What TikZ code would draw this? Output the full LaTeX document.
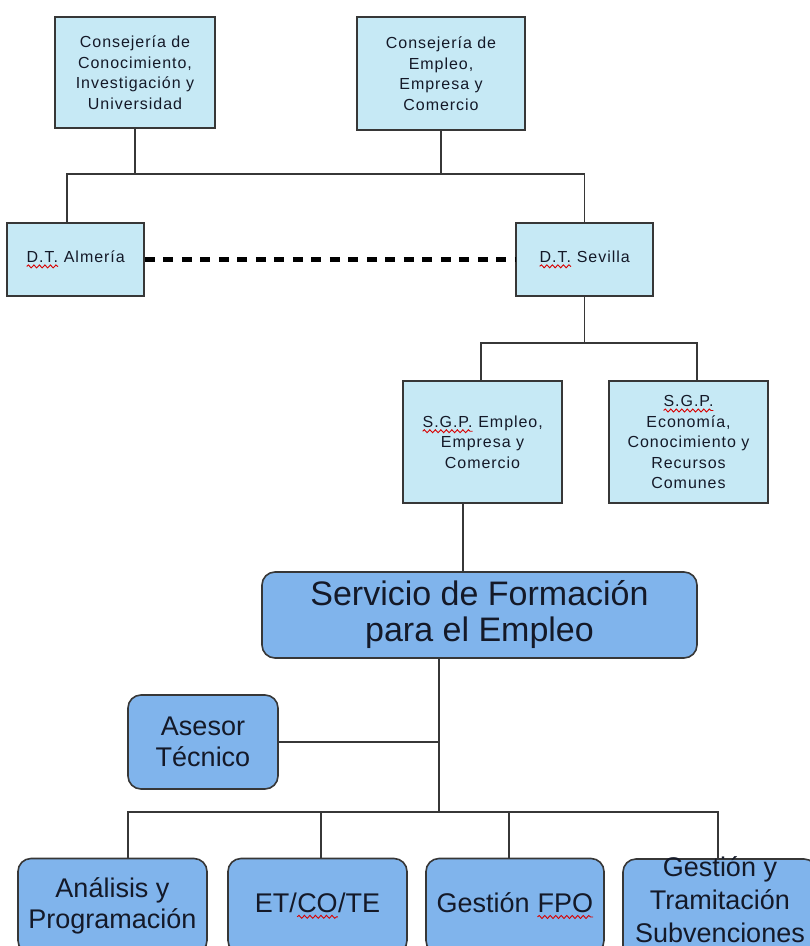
\documentclass[tikz,border=0pt]{standalone}
\usepackage{fontspec}
\setmainfont{Liberation Sans}
\usetikzlibrary{decorations.pathmorphing}
\definecolor{lightfill}{RGB}{198,233,245}
\definecolor{darkfill}{RGB}{128,180,236}
\definecolor{edge}{RGB}{55,55,55}
\definecolor{txt}{RGB}{20,25,40}
\tikzset{
  wavebase/.style={inner sep=0pt, outer sep=0pt, minimum width=0pt, minimum height=0pt, draw=none, fill=none, sharp corners, line width=0pt},
  waveline/.style={draw=red!85!black, line width=0.9pt, sharp corners, decorate, decoration={snake, amplitude=1.5pt, segment length=5.5pt}}
}
\newcommand\redwave[1]{\tikz[baseline=(w.base), x=1pt, y=1pt, sharp corners]{\node[wavebase] (w) {#1}; \draw[waveline] ([yshift=-4pt]w.base west) -- ([yshift=-4pt]w.base east);}}
\newcommand\smallfont{\addfontfeature{LetterSpace=6}\fontsize{16}{20.5}\selectfont}
\newcommand\bigfont{\fontsize{27}{31}\selectfont}
\tikzset{
  lbox/.style={draw=edge, line width=1.8pt, fill=lightfill, align=center, text=txt, inner sep=0pt, font=\smallfont},
  dbox/.style={draw=edge, line width=1.6pt, fill=darkfill, align=center, text=txt, inner sep=0pt, rounded corners=13pt, font=\bigfont},
  conn/.style={draw=edge, line width=1.5pt},
  dotted link/.style={draw=black, line width=5pt, dash pattern=on 10pt off 8.5pt}
}
\begin{document}
\begin{tikzpicture}[x=1pt,y=-1pt]
\useasboundingbox (0,0) rectangle (810,946);
\clip (0,0) rectangle (810,946);
\fill[white] (0,0) rectangle (810,946);
% top boxes
\node[lbox, minimum width=160pt, minimum height=111pt] (c1) at (135,72.5) {Consejería de\\Conocimiento,\\Investigación y\\Universidad};
\node[lbox, minimum width=168pt, minimum height=113pt] (c2) at (441,73.5) {Consejería de\\Empleo,\\Empresa y\\Comercio};
\node[lbox, minimum width=137pt, minimum height=73pt] (dta) at (75.5,259.5) {\redwave{D.T.} Almería};
\node[lbox, minimum width=137pt, minimum height=73pt] (dts) at (584.5,259.5) {\redwave{D.T.} Sevilla};
\node[lbox, minimum width=159pt, minimum height=122pt] (sgp1) at (482.5,442) {\redwave{S.G.P.} Empleo,\\Empresa y\\Comercio};
\node[lbox, minimum width=159pt, minimum height=122pt] (sgp2) at (688.5,442) {\redwave{S.G.P.}\\Economía,\\Conocimiento y\\Recursos\\Comunes};
% rounded boxes
\node[dbox, minimum width=435pt, minimum height=86pt, font=\fontsize{34}{36}\selectfont] (serv) at (479.5,615) {Servicio de Formación\\para el Empleo};
\node[dbox, minimum width=150pt, minimum height=94pt] (ases) at (203,742) {Asesor\\Técnico};
\node[dbox, minimum width=189pt, minimum height=95pt] (b1) at (112.5,906) {Análisis y\\Programación};
\node[dbox, minimum width=179pt, minimum height=95pt] (b2) at (317.5,906) {ET/\redwave{CO}/TE};
\node[dbox, minimum width=178pt, minimum height=95pt] (b3) at (515,906) {Gestión \redwave{FPO}};
\node[dbox, minimum width=194pt, minimum height=100pt, font=\fontsize{27}{33}\selectfont] (b4) at (720,909) {\smash{\begin{tabular}{@{}c@{}}Gestión y\\Tramitación\\Subvenciones\end{tabular}}};
% junction coordinates
\coordinate (hL) at (67,174);
\coordinate (hR) at (584.5,174);
\coordinate (sL) at (481,343);
\coordinate (sR) at (697,343);
\coordinate (sv) at (463,503);
\coordinate (t) at (439,812);
\coordinate (t1) at (128,812);
\coordinate (t2) at (321,812);
\coordinate (t3) at (509,812);
\coordinate (t4) at (718,812);
% connectors
\draw[conn] (c1.south) -- (c1.south |- hL);
\draw[conn] (c2.south) -- (c2.south |- hL);
\draw[conn] (hL |- dta.north) -- (hL) -- (hR) -- (dts.north);
\draw[dotted link] (dta.east) -- (dts.west);
\draw[conn] (dts.south) -- (dts.south |- sL);
\draw[conn] (sL |- sgp1.north) -- (sL) -- (sR) -- (sR |- sgp2.north);
\draw[conn] (sv |- sgp1.south) -- (sv |- serv.north);
\draw[conn] (t |- serv.south) -- (t);
\draw[conn] (ases.east) -- (ases.east -| t);
\draw[conn] (t1 |- b1.north) -- (t1) -- (t4) -- (t4 |- b4.north);
\draw[conn] (t2) -- (t2 |- b2.north);
\draw[conn] (t3) -- (t3 |- b3.north);
\end{tikzpicture}
\end{document}
